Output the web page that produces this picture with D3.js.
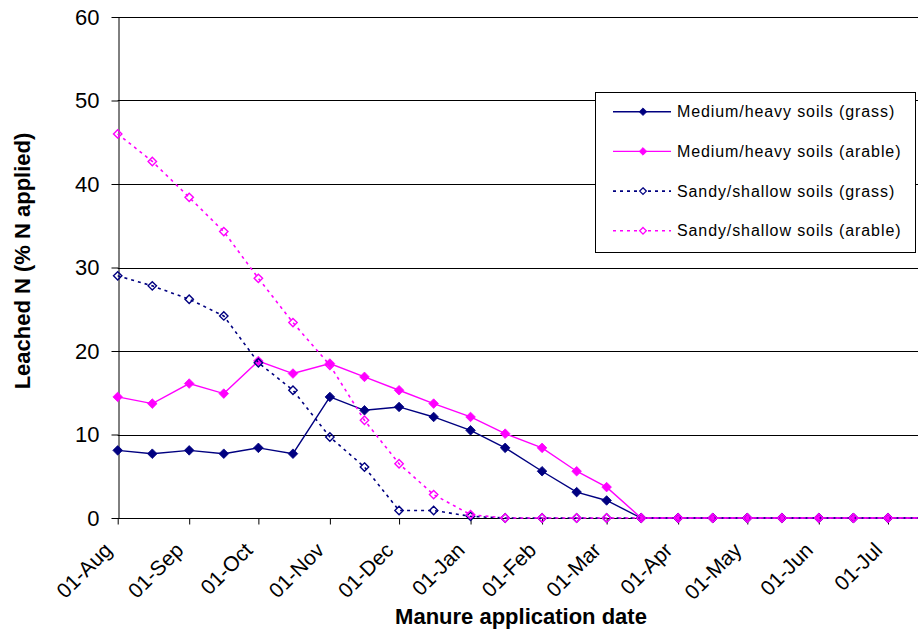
<!DOCTYPE html>
<html>
<head>
<meta charset="utf-8">
<script src="https://cdn.jsdelivr.net/npm/d3@7/dist/d3.min.js"></script>
<style>
  html, body { margin: 0; padding: 0; background: #fff; }
  svg { display: block; font-family: "Liberation Sans", Arial, sans-serif; }
</style>
</head>
<body>
<svg id="chart" width="918" height="632"></svg>
<script>
// ---- data ----
const dates = ["2005-08-01","2005-08-16","2005-09-01","2005-09-16","2005-10-01","2005-10-16",
  "2005-11-01","2005-11-16","2005-12-01","2005-12-16","2006-01-01","2006-01-16",
  "2006-02-01","2006-02-16","2006-03-01","2006-03-16","2006-04-01","2006-04-16",
  "2006-05-01","2006-05-16","2006-06-01","2006-06-16","2006-07-01","2006-07-16"];
const medGrass   = [8.1, 7.7, 8.1, 7.7, 8.4, 7.7, 14.5, 12.9, 13.3, 12.1, 10.5, 8.4, 5.6, 3.1, 2.1, 0, 0, 0, 0, 0, 0, 0, 0, 0];
const medArable  = [14.5, 13.7, 16.1, 14.9, 18.8, 17.3, 18.5, 16.9, 15.3, 13.7, 12.1, 10.1, 8.4, 5.6, 3.7, 0, 0, 0, 0, 0, 0, 0, 0, 0];
const sandyGrass = [29.0, 27.8, 26.2, 24.2, 18.6, 15.3, 9.7, 6.1, 0.9, 0.9, 0.2, 0, 0, 0, 0, 0, 0, 0, 0, 0, 0, 0, 0, 0];
const sandyArable= [46.0, 42.7, 38.4, 34.3, 28.7, 23.4, 18.3, 11.7, 6.5, 2.8, 0.4, 0, 0, 0, 0, 0, 0, 0, 0, 0, 0, 0, 0, 0];
const seriesNames = ["Medium/heavy soils (grass)", "Medium/heavy soils (arable)",
                     "Sandy/shallow soils (grass)", "Sandy/shallow soils (arable)"];
const yTicks = [0, 10, 20, 30, 40, 50, 60];
const xTicks = ["2005-08-01","2005-09-01","2005-10-01","2005-11-01","2005-12-01","2006-01-01",
  "2006-02-01","2006-03-01","2006-04-01","2006-05-01","2006-06-01","2006-07-01"];
const yTitle = "Leached N (% N applied)";
const xTitle = "Manure application date";

// ---- setup ----
const parse = d3.timeParse("%Y-%m-%d");
const dateObjs = dates.map(parse);
const svg = d3.select("#chart");
const W = 918;
const plotLeft = 117.7, plotTop = 17, plotBottom = 518;

const x = d3.scaleTime().domain([dateObjs[0], dateObjs[dateObjs.length - 1]]).range([plotLeft, 922.6]);
const y = d3.scaleLinear().domain([0, 60]).range([plotBottom, plotTop]);

// gridlines
svg.append("g").selectAll("line").data(yTicks.filter(v => v > 0)).join("line")
  .attr("x1", plotLeft).attr("x2", W)
  .attr("y1", d => Math.round(y(d)) + 0.5).attr("y2", d => Math.round(y(d)) + 0.5)
  .attr("stroke", "#000").attr("stroke-width", 1);

// y axis
const yAxis = svg.append("g").attr("transform", `translate(${Math.round(plotLeft) + 0.5},0)`)
  .call(d3.axisLeft(y).tickValues(yTicks).tickSize(7).tickPadding(12).tickSizeOuter(0));
yAxis.select(".domain").attr("stroke", "#000");
yAxis.selectAll(".tick line").attr("stroke", "#000");
yAxis.selectAll("text").style("font-size", "22px").attr("fill", "#000");

// x axis
const xAxis = svg.append("g").attr("transform", `translate(0,${plotBottom + 0.5})`)
  .call(d3.axisBottom(x).tickValues(xTicks.map(parse)).tickSize(6).tickSizeOuter(0)
        .tickFormat(d3.timeFormat("%d-%b")));
xAxis.select(".domain").attr("stroke", "#000").attr("d", `M${plotLeft},0H${W}`);
xAxis.selectAll(".tick line").attr("stroke", "#000");
xAxis.selectAll("text")
  .attr("x", 0).attr("y", 0).attr("dy", 0)
  .attr("transform", "translate(-5,33) rotate(-45)")
  .style("text-anchor", "end").style("font-size", "21px").attr("fill", "#000");

// titles
svg.append("text").attr("transform", `translate(30,261) rotate(-90)`)
  .attr("text-anchor", "middle").style("font-size", "22px").style("font-weight", "bold")
  .text(yTitle);
svg.append("text").attr("x", 521).attr("y", 624)
  .attr("text-anchor", "middle").style("font-size", "22px").style("font-weight", "bold")
  .text(xTitle);

// series
const series = [
  { name: seriesNames[0], values: medGrass,   color: "#000080", dash: null,  filled: true },
  { name: seriesNames[1], values: medArable,  color: "#FF00FF", dash: null,  filled: true },
  { name: seriesNames[2], values: sandyGrass, color: "#000080", dash: "3,4", filled: false },
  { name: seriesNames[3], values: sandyArable,color: "#FF00FF", dash: "3,4", filled: false }
];

const line = d3.line().x(d => x(d.date)).y(d => y(d.v));
const diamond = (cx, cy, r) => `M${cx},${cy - r}L${cx + r},${cy}L${cx},${cy + r}L${cx - r},${cy}Z`;

const plot = svg.append("g");
series.forEach(s => {
  const pts = s.values.map((v, i) => ({ date: dateObjs[i], v }));
  plot.append("path").datum(pts).attr("d", line)
    .attr("fill", "none").attr("stroke", s.color)
    .attr("stroke-width", s.dash ? 1.6 : 1.4)
    .attr("stroke-dasharray", s.dash);
  plot.append("g").selectAll("path").data(pts).join("path")
    .attr("d", d => diamond(x(d.date), y(d.v), s.filled ? 4.8 : 4.2))
    .attr("fill", s.filled ? s.color : "none")
    .attr("stroke", s.color).attr("stroke-width", s.filled ? 0.8 : 1.4);
});

// legend
const lg = svg.append("g");
lg.append("rect").attr("x", 595.5).attr("y", 92.5).attr("width", 320).attr("height", 160)
  .attr("fill", "#fff").attr("stroke", "#000").attr("stroke-width", 1);
series.forEach((s, i) => {
  const cy = 111.7 + i * 39.7;
  lg.append("line").attr("x1", 613).attr("x2", 671).attr("y1", cy).attr("y2", cy)
    .attr("stroke", s.color).attr("stroke-width", s.dash ? 1.6 : 1.4)
    .attr("stroke-dasharray", s.dash);
  lg.append("path").attr("d", diamond(643, cy, s.filled ? 3.8 : 3.3))
    .attr("fill", s.filled ? s.color : "#fff")
    .attr("stroke", s.color).attr("stroke-width", s.filled ? 0.8 : 1.3);
  lg.append("text").attr("x", 677).attr("y", cy + 5.5)
    .style("font-size", "16px").style("letter-spacing", "0.9px")
    .text(s.name);
});
</script>
</body>
</html>
